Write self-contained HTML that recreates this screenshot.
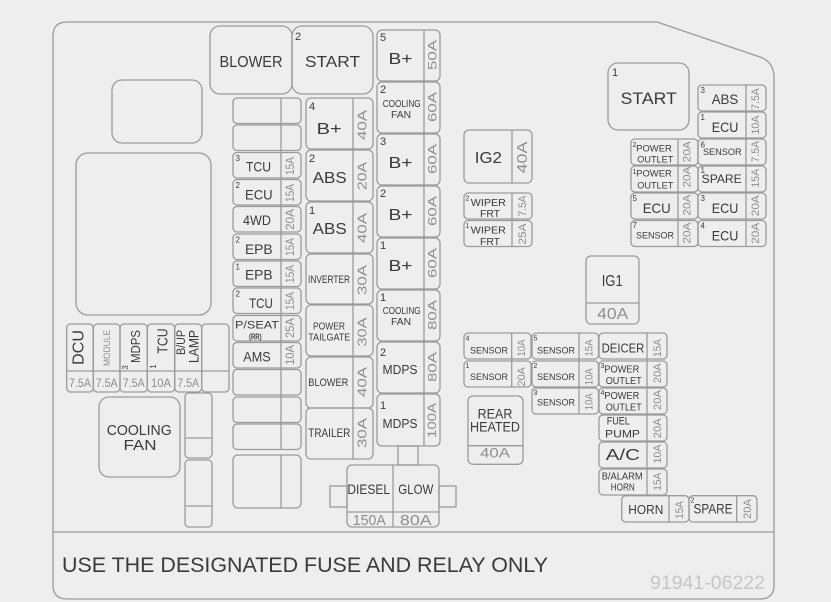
<!DOCTYPE html>
<html><head><meta charset="utf-8"><style>
html,body{margin:0;padding:0;background:#eeeeee;}
svg{display:block}
.b{fill:none;stroke:#9a9a9a;stroke-width:1.3}
text{font-family:"Liberation Sans",sans-serif;fill:#3a3a3a;text-anchor:middle}
text.a{fill:#8e8e8e}
text.n{text-anchor:start}
</style></head><body>
<svg width="831" height="602" viewBox="0 0 831 602" xmlns="http://www.w3.org/2000/svg">
<rect x="0" y="0" width="831" height="602" fill="#eeeeee"/>
<g class="b">
<path d="M67,22 H657 L760,57 Q774,62 774,77 V585 Q774,599 760,599 H67 Q53,599 53,585 V36 Q53,22 67,22 Z"/>
<line x1="53" y1="532" x2="774" y2="532"/>
<rect x="112" y="80" width="90" height="63" rx="10"/>
<rect x="76" y="153" width="135" height="162" rx="12"/>
<rect x="210" y="26" width="82" height="68" rx="10"/>
<rect x="292" y="26" width="81" height="68" rx="10"/>
<!-- B+ column -->
<rect x="377" y="30" width="63" height="51" rx="5"/>
<rect x="377" y="82" width="63" height="51" rx="5"/>
<rect x="377" y="134" width="63" height="51" rx="5"/>
<rect x="377" y="186" width="63" height="51" rx="5"/>
<rect x="377" y="238" width="63" height="51" rx="5"/>
<rect x="377" y="290" width="63" height="51" rx="5"/>
<rect x="377" y="342" width="63" height="51" rx="5"/>
<rect x="377" y="394" width="63" height="52" rx="5"/>
<line x1="424" y1="30" x2="424" y2="446"/>
<rect x="398" y="446" width="20" height="19"/>
<rect x="330" y="486" width="17" height="21"/>
<rect x="439" y="486" width="17" height="21"/>
<rect x="347" y="465" width="92" height="62" rx="5"/>
<line x1="393" y1="465" x2="393" y2="527"/>
<line x1="347" y1="512" x2="439" y2="512"/>
<!-- middle column -->
<rect x="306" y="98" width="67" height="51" rx="5"/>
<rect x="306" y="150" width="67" height="51" rx="5"/>
<rect x="306" y="202" width="67" height="51" rx="5"/>
<rect x="306" y="254" width="67" height="50" rx="5"/>
<rect x="306" y="305" width="67" height="51" rx="5"/>
<rect x="306" y="357" width="67" height="51" rx="5"/>
<rect x="306" y="408" width="67" height="51" rx="5"/>
<line x1="353" y1="98" x2="353" y2="459"/>
<!-- small fuse column -->
<rect x="233" y="98" width="68" height="25.5" rx="4"/>
<rect x="233" y="125" width="68" height="25.5" rx="4"/>
<rect x="233" y="152.5" width="68" height="25.5" rx="4"/>
<rect x="233" y="179.5" width="68" height="25.5" rx="4"/>
<rect x="233" y="206.5" width="68" height="25.5" rx="4"/>
<rect x="233" y="234" width="68" height="25.5" rx="4"/>
<rect x="233" y="261" width="68" height="25.5" rx="4"/>
<rect x="233" y="288" width="68" height="25.5" rx="4"/>
<rect x="233" y="315.5" width="68" height="25.5" rx="4"/>
<rect x="233" y="342.5" width="68" height="25.5" rx="4"/>
<rect x="233" y="369.5" width="68" height="25.5" rx="4"/>
<rect x="233" y="397" width="68" height="25.5" rx="4"/>
<rect x="233" y="424" width="68" height="25.5" rx="4"/>
<line x1="281" y1="98" x2="281" y2="449.5"/>
<rect x="233" y="455" width="68" height="53" rx="5"/>
<line x1="281" y1="455" x2="281" y2="508"/>
<!-- DCU row -->
<rect x="66.7" y="324" width="26.6" height="68" rx="4"/>
<rect x="93.3" y="324" width="26.7" height="68" rx="4"/>
<rect x="120" y="324" width="27.3" height="68" rx="4"/>
<rect x="147.3" y="324" width="27.4" height="68" rx="4"/>
<rect x="174.7" y="324" width="27" height="68" rx="4"/>
<rect x="201.7" y="324" width="27.3" height="68" rx="4"/>
<line x1="66.7" y1="371" x2="229" y2="371"/>
<rect x="99" y="397" width="81" height="80" rx="10"/>
<rect x="185" y="393" width="27" height="65" rx="4"/>
<line x1="185" y1="438" x2="212" y2="438"/>
<rect x="185" y="460" width="27" height="67" rx="4"/>
<line x1="185" y1="506" x2="212" y2="506"/>
<!-- IG2 / wipers / IG1 -->
<rect x="464" y="130" width="68" height="53" rx="5"/>
<line x1="512" y1="130" x2="512" y2="183"/>
<rect x="464" y="193" width="68" height="26" rx="4"/>
<rect x="464" y="220.5" width="68" height="26" rx="4"/>
<line x1="512" y1="193" x2="512" y2="246.5"/>
<rect x="586" y="256" width="53" height="68" rx="5"/>
<line x1="586" y1="303" x2="639" y2="303"/>
<!-- right top -->
<rect x="608" y="63" width="81" height="67" rx="10"/>
<rect x="698" y="85" width="68" height="26" rx="4"/>
<rect x="698" y="112" width="68" height="26" rx="4"/>
<rect x="698" y="139" width="68" height="26" rx="4"/>
<rect x="698" y="166" width="68" height="26" rx="4"/>
<rect x="698" y="193" width="68" height="26" rx="4"/>
<rect x="698" y="220.5" width="68" height="26" rx="4"/>
<line x1="746" y1="85" x2="746" y2="246.5"/>
<rect x="631" y="139" width="67" height="26" rx="4"/>
<rect x="631" y="166" width="67" height="26" rx="4"/>
<rect x="631" y="193" width="67" height="26" rx="4"/>
<rect x="631" y="220.5" width="67" height="26" rx="4"/>
<line x1="678" y1="139" x2="678" y2="246.5"/>
<!-- sensor block -->
<rect x="464" y="333" width="67" height="26" rx="4"/>
<rect x="464" y="361" width="67" height="26" rx="4"/>
<line x1="511.7" y1="333" x2="511.7" y2="387"/>
<rect x="532" y="333" width="66.5" height="26" rx="4"/>
<rect x="532" y="361" width="66.5" height="26" rx="4"/>
<rect x="532" y="388" width="66.5" height="26" rx="4"/>
<line x1="579" y1="333" x2="579" y2="414"/>
<rect x="599" y="333" width="68" height="26" rx="4"/>
<rect x="599" y="361" width="68" height="26" rx="4"/>
<rect x="599" y="388" width="68" height="26" rx="4"/>
<rect x="599" y="415" width="68" height="26" rx="4"/>
<rect x="599" y="442" width="68" height="26" rx="4"/>
<rect x="599" y="469" width="68" height="26" rx="4"/>
<line x1="647" y1="333" x2="647" y2="495"/>
<rect x="621.7" y="495.7" width="67.3" height="26.3" rx="4"/>
<line x1="669" y1="495.7" x2="669" y2="522"/>
<rect x="689" y="495.7" width="68" height="26.3" rx="4"/>
<line x1="736.7" y1="495.7" x2="736.7" y2="522"/>
<rect x="468" y="396" width="55" height="68.3" rx="5"/>
<line x1="468" y1="445.7" x2="523" y2="445.7"/>
</g>

<!-- relays top -->
<text x="251" y="67" font-size="16" textLength="63" lengthAdjust="spacingAndGlyphs">BLOWER</text>
<text class="n" x="295" y="40" font-size="11">2</text>
<text x="332.5" y="67" font-size="16" textLength="55" lengthAdjust="spacingAndGlyphs">START</text>

<!-- B+ column -->
<text class="n" x="380" y="41" font-size="11">5</text>
<text x="400.5" y="64" font-size="16" textLength="24" lengthAdjust="spacingAndGlyphs">B+</text>
<text class="a" transform="translate(436.7,55) rotate(-90)" font-size="11.5" textLength="30" lengthAdjust="spacingAndGlyphs">50A</text>

<text class="n" x="380" y="93" font-size="11">2</text>
<text x="401.7" y="107" font-size="10" textLength="38" lengthAdjust="spacingAndGlyphs">COOLING</text>
<text x="401" y="118" font-size="10" textLength="20" lengthAdjust="spacingAndGlyphs">FAN</text>
<text class="a" transform="translate(436.7,107) rotate(-90)" font-size="11.5" textLength="30" lengthAdjust="spacingAndGlyphs">60A</text>

<text class="n" x="380" y="145" font-size="11">3</text>
<text x="400.5" y="168" font-size="16" textLength="24" lengthAdjust="spacingAndGlyphs">B+</text>
<text class="a" transform="translate(436.7,159) rotate(-90)" font-size="11.5" textLength="30" lengthAdjust="spacingAndGlyphs">60A</text>

<text class="n" x="380" y="197" font-size="11">2</text>
<text x="400.5" y="220" font-size="16" textLength="24" lengthAdjust="spacingAndGlyphs">B+</text>
<text class="a" transform="translate(436.7,211) rotate(-90)" font-size="11.5" textLength="30" lengthAdjust="spacingAndGlyphs">60A</text>

<text class="n" x="380" y="249" font-size="11">1</text>
<text x="400.5" y="271" font-size="16" textLength="24" lengthAdjust="spacingAndGlyphs">B+</text>
<text class="a" transform="translate(436.7,263) rotate(-90)" font-size="11.5" textLength="30" lengthAdjust="spacingAndGlyphs">60A</text>

<text class="n" x="380" y="301" font-size="11">1</text>
<text x="401.7" y="314" font-size="10" textLength="38" lengthAdjust="spacingAndGlyphs">COOLING</text>
<text x="401" y="325" font-size="10" textLength="20" lengthAdjust="spacingAndGlyphs">FAN</text>
<text class="a" transform="translate(436.7,315) rotate(-90)" font-size="11.5" textLength="30" lengthAdjust="spacingAndGlyphs">80A</text>

<text class="n" x="380" y="356" font-size="11">2</text>
<text x="400" y="374" font-size="13" textLength="35" lengthAdjust="spacingAndGlyphs">MDPS</text>
<text class="a" transform="translate(436.7,367) rotate(-90)" font-size="11.5" textLength="30" lengthAdjust="spacingAndGlyphs">80A</text>

<text class="n" x="380" y="409" font-size="11">1</text>
<text x="400" y="428" font-size="13" textLength="35" lengthAdjust="spacingAndGlyphs">MDPS</text>
<text class="a" transform="translate(436.2,420.5) rotate(-90)" font-size="11.5" textLength="35" lengthAdjust="spacingAndGlyphs">100A</text>

<!-- diesel glow -->
<text x="368.7" y="494" font-size="14" textLength="42.7" lengthAdjust="spacingAndGlyphs">DIESEL</text>
<text x="415.8" y="494" font-size="14" textLength="35" lengthAdjust="spacingAndGlyphs">GLOW</text>
<text class="a" x="369.3" y="525" font-size="15" textLength="33" lengthAdjust="spacingAndGlyphs">150A</text>
<text class="a" x="415.8" y="525" font-size="15" textLength="31.7" lengthAdjust="spacingAndGlyphs">80A</text>

<!-- middle column -->
<text class="n" x="309" y="110" font-size="11">4</text>
<text x="329.2" y="134" font-size="16" textLength="25" lengthAdjust="spacingAndGlyphs">B+</text>
<text class="a" transform="translate(366.5,125) rotate(-90)" font-size="13" textLength="30" lengthAdjust="spacingAndGlyphs">40A</text>

<text class="n" x="309" y="162" font-size="11">2</text>
<text x="329.7" y="183" font-size="16" textLength="34" lengthAdjust="spacingAndGlyphs">ABS</text>
<text class="a" transform="translate(366.5,176) rotate(-90)" font-size="13" textLength="28" lengthAdjust="spacingAndGlyphs">20A</text>

<text class="n" x="309" y="214" font-size="11">1</text>
<text x="329.7" y="234" font-size="16" textLength="34" lengthAdjust="spacingAndGlyphs">ABS</text>
<text class="a" transform="translate(366.5,228) rotate(-90)" font-size="13" textLength="30" lengthAdjust="spacingAndGlyphs">40A</text>

<text x="329" y="283" font-size="11" textLength="42" lengthAdjust="spacingAndGlyphs">INVERTER</text>
<text class="a" transform="translate(366.5,280) rotate(-90)" font-size="13" textLength="30" lengthAdjust="spacingAndGlyphs">30A</text>

<text x="329" y="329.3" font-size="10.5" textLength="32" lengthAdjust="spacingAndGlyphs">POWER</text>
<text x="329.3" y="340.7" font-size="10.5" textLength="42" lengthAdjust="spacingAndGlyphs">TAILGATE</text>
<text class="a" transform="translate(366.5,332) rotate(-90)" font-size="13" textLength="29" lengthAdjust="spacingAndGlyphs">30A</text>

<text x="328.3" y="386" font-size="11" textLength="40" lengthAdjust="spacingAndGlyphs">BLOWER</text>
<text class="a" transform="translate(366.5,382) rotate(-90)" font-size="13" textLength="30" lengthAdjust="spacingAndGlyphs">40A</text>

<text x="329.3" y="437" font-size="11.5" textLength="42" lengthAdjust="spacingAndGlyphs">TRAILER</text>
<text class="a" transform="translate(366.5,433) rotate(-90)" font-size="13" textLength="30" lengthAdjust="spacingAndGlyphs">30A</text>

<!-- small fuse column -->
<text class="n" x="235.5" y="161" font-size="8">3</text>
<text x="258.5" y="171.5" font-size="14" textLength="25" lengthAdjust="spacingAndGlyphs">TCU</text>
<text class="a" transform="translate(294,166) rotate(-90)" font-size="12" textLength="18" lengthAdjust="spacingAndGlyphs">15A</text>

<text class="n" x="235.5" y="188" font-size="8">2</text>
<text x="258.8" y="199.5" font-size="14" textLength="27.7" lengthAdjust="spacingAndGlyphs">ECU</text>
<text class="a" transform="translate(294,193) rotate(-90)" font-size="12" textLength="18" lengthAdjust="spacingAndGlyphs">15A</text>

<text x="257" y="225" font-size="14" textLength="28" lengthAdjust="spacingAndGlyphs">4WD</text>
<text class="a" transform="translate(294,219.5) rotate(-90)" font-size="12" textLength="21" lengthAdjust="spacingAndGlyphs">20A</text>

<text class="n" x="235.5" y="242.5" font-size="8">2</text>
<text x="258.8" y="254" font-size="14" textLength="27.7" lengthAdjust="spacingAndGlyphs">EPB</text>
<text class="a" transform="translate(294,247) rotate(-90)" font-size="12" textLength="18" lengthAdjust="spacingAndGlyphs">15A</text>

<text class="n" x="235.5" y="269.5" font-size="8">1</text>
<text x="258.8" y="279.5" font-size="14" textLength="27.7" lengthAdjust="spacingAndGlyphs">EPB</text>
<text class="a" transform="translate(294,274) rotate(-90)" font-size="12" textLength="18" lengthAdjust="spacingAndGlyphs">15A</text>

<text class="n" x="235.5" y="296.5" font-size="8">2</text>
<text x="261" y="308" font-size="14" textLength="23.7" lengthAdjust="spacingAndGlyphs">TCU</text>
<text class="a" transform="translate(294,301) rotate(-90)" font-size="12" textLength="18" lengthAdjust="spacingAndGlyphs">15A</text>

<text x="257" y="328.3" font-size="11" textLength="44" lengthAdjust="spacingAndGlyphs">P/SEAT</text>
<text x="255.3" y="339.3" font-size="8" font-weight="bold" textLength="12.7" lengthAdjust="spacingAndGlyphs">(RR)</text>
<text class="a" transform="translate(294,328) rotate(-90)" font-size="12" textLength="20" lengthAdjust="spacingAndGlyphs">25A</text>

<text x="257" y="361.5" font-size="14" textLength="27.4" lengthAdjust="spacingAndGlyphs">AMS</text>
<text class="a" transform="translate(294,355) rotate(-90)" font-size="12" textLength="20" lengthAdjust="spacingAndGlyphs">10A</text>

<!-- DCU row -->
<text transform="translate(83.3,347.5) rotate(-90)" font-size="16" textLength="35" lengthAdjust="spacingAndGlyphs">DCU</text>
<text class="a" transform="translate(110,348) rotate(-90)" font-size="9" textLength="36" lengthAdjust="spacingAndGlyphs">MODULE</text>
<text transform="translate(140,346.5) rotate(-90)" font-size="13" textLength="33" lengthAdjust="spacingAndGlyphs">MDPS</text>
<text transform="translate(128,367.5) rotate(-90)" font-size="8">3</text>
<text transform="translate(167.7,341) rotate(-90)" font-size="15" textLength="25" lengthAdjust="spacingAndGlyphs">TCU</text>
<text transform="translate(156,366.5) rotate(-90)" font-size="8">1</text>
<text transform="translate(185,342.5) rotate(-90)" font-size="11.5" textLength="25" lengthAdjust="spacingAndGlyphs">B/UP</text>
<text transform="translate(198.3,346.5) rotate(-90)" font-size="13.5" textLength="33" lengthAdjust="spacingAndGlyphs">LAMP</text>
<text class="a" x="80" y="387" font-size="12" textLength="22" lengthAdjust="spacingAndGlyphs">7.5A</text>
<text class="a" x="106.7" y="387" font-size="12" textLength="22" lengthAdjust="spacingAndGlyphs">7.5A</text>
<text class="a" x="133.7" y="387" font-size="12" textLength="22" lengthAdjust="spacingAndGlyphs">7.5A</text>
<text class="a" x="161" y="387" font-size="12" textLength="20" lengthAdjust="spacingAndGlyphs">10A</text>
<text class="a" x="188.2" y="387" font-size="12" textLength="22" lengthAdjust="spacingAndGlyphs">7.5A</text>

<!-- cooling fan relay -->
<text x="139.2" y="435" font-size="15" textLength="65" lengthAdjust="spacingAndGlyphs">COOLING</text>
<text x="140" y="450" font-size="15" textLength="33" lengthAdjust="spacingAndGlyphs">FAN</text>

<!-- IG2 / wipers / IG1 -->
<text x="488.3" y="163" font-size="16" textLength="27" lengthAdjust="spacingAndGlyphs">IG2</text>
<text class="a" transform="translate(527.2,157.5) rotate(-90)" font-size="15" textLength="31.7" lengthAdjust="spacingAndGlyphs">40A</text>
<text class="n" x="465.5" y="200.5" font-size="7">2</text>
<text x="488.3" y="206" font-size="10" textLength="35" lengthAdjust="spacingAndGlyphs">WIPER</text>
<text x="490" y="217" font-size="10" textLength="20" lengthAdjust="spacingAndGlyphs">FRT</text>
<text class="a" transform="translate(526,206) rotate(-90)" font-size="11" textLength="21" lengthAdjust="spacingAndGlyphs">7.5A</text>
<text class="n" x="465.5" y="228" font-size="7">1</text>
<text x="488.3" y="233.7" font-size="10" textLength="35" lengthAdjust="spacingAndGlyphs">WIPER</text>
<text x="490" y="245" font-size="10" textLength="20" lengthAdjust="spacingAndGlyphs">FRT</text>
<text class="a" transform="translate(526,234) rotate(-90)" font-size="11" textLength="21" lengthAdjust="spacingAndGlyphs">25A</text>
<text x="612.2" y="286" font-size="16" textLength="21" lengthAdjust="spacingAndGlyphs">IG1</text>
<text class="a" x="612.7" y="319" font-size="16" textLength="31" lengthAdjust="spacingAndGlyphs">40A</text>

<!-- right top -->
<text class="n" x="612" y="76" font-size="11">1</text>
<text x="648.7" y="104" font-size="17" textLength="56" lengthAdjust="spacingAndGlyphs">START</text>

<text class="n" x="700.5" y="93" font-size="8">3</text>
<text x="725" y="104" font-size="14" textLength="26.6" lengthAdjust="spacingAndGlyphs">ABS</text>
<text class="a" transform="translate(759,99) rotate(-90)" font-size="11" textLength="21.7" lengthAdjust="spacingAndGlyphs">7.5A</text>
<text class="n" x="700.5" y="120" font-size="8">1</text>
<text x="725" y="132" font-size="14" textLength="26.6" lengthAdjust="spacingAndGlyphs">ECU</text>
<text class="a" transform="translate(759,125) rotate(-90)" font-size="11" textLength="19" lengthAdjust="spacingAndGlyphs">10A</text>
<text class="n" x="700.5" y="147.5" font-size="8">6</text>
<text x="722.3" y="155" font-size="9.5" textLength="38.7" lengthAdjust="spacingAndGlyphs">SENSOR</text>
<text class="a" transform="translate(759,151.7) rotate(-90)" font-size="11" textLength="21.7" lengthAdjust="spacingAndGlyphs">7.5A</text>
<text class="n" x="700.5" y="173" font-size="8">1</text>
<text x="721.7" y="183" font-size="11.5" textLength="40" lengthAdjust="spacingAndGlyphs">SPARE</text>
<text class="a" transform="translate(759,178.3) rotate(-90)" font-size="11" textLength="19" lengthAdjust="spacingAndGlyphs">15A</text>
<text class="n" x="700.5" y="201" font-size="8">3</text>
<text x="725" y="213" font-size="14" textLength="26.6" lengthAdjust="spacingAndGlyphs">ECU</text>
<text class="a" transform="translate(759,205.7) rotate(-90)" font-size="11" textLength="21" lengthAdjust="spacingAndGlyphs">20A</text>
<text class="n" x="700.5" y="228.5" font-size="8">4</text>
<text x="725" y="240.7" font-size="14" textLength="26.6" lengthAdjust="spacingAndGlyphs">ECU</text>
<text class="a" transform="translate(759,233.3) rotate(-90)" font-size="11" textLength="21" lengthAdjust="spacingAndGlyphs">20A</text>

<text class="n" x="632.5" y="147" font-size="7">2</text>
<text x="654" y="151.7" font-size="9" textLength="35.7" lengthAdjust="spacingAndGlyphs">POWER</text>
<text x="655.3" y="162.3" font-size="9" textLength="36" lengthAdjust="spacingAndGlyphs">OUTLET</text>
<text class="a" transform="translate(690.7,151.7) rotate(-90)" font-size="11" textLength="21" lengthAdjust="spacingAndGlyphs">20A</text>
<text class="n" x="632.5" y="174" font-size="7">1</text>
<text x="654" y="176.7" font-size="9" textLength="35.7" lengthAdjust="spacingAndGlyphs">POWER</text>
<text x="655.3" y="188.3" font-size="9" textLength="36" lengthAdjust="spacingAndGlyphs">OUTLET</text>
<text class="a" transform="translate(690.7,177) rotate(-90)" font-size="11" textLength="21" lengthAdjust="spacingAndGlyphs">20A</text>
<text class="n" x="632.5" y="201" font-size="8">5</text>
<text x="656.7" y="213" font-size="14" textLength="28" lengthAdjust="spacingAndGlyphs">ECU</text>
<text class="a" transform="translate(690.7,205) rotate(-90)" font-size="11" textLength="21" lengthAdjust="spacingAndGlyphs">20A</text>
<text class="n" x="632.5" y="228" font-size="8">7</text>
<text x="655" y="238.3" font-size="9.5" textLength="38" lengthAdjust="spacingAndGlyphs">SENSOR</text>
<text class="a" transform="translate(690.7,233) rotate(-90)" font-size="11" textLength="21" lengthAdjust="spacingAndGlyphs">20A</text>

<!-- sensor block -->
<text class="n" x="465.5" y="340.5" font-size="7">4</text>
<text x="489" y="353.3" font-size="9.5" textLength="38" lengthAdjust="spacingAndGlyphs">SENSOR</text>
<text class="a" transform="translate(525,348) rotate(-90)" font-size="11" textLength="17" lengthAdjust="spacingAndGlyphs">10A</text>
<text class="n" x="465.5" y="368" font-size="7">1</text>
<text x="489" y="380" font-size="9.5" textLength="38" lengthAdjust="spacingAndGlyphs">SENSOR</text>
<text class="a" transform="translate(525,376.7) rotate(-90)" font-size="11" textLength="19" lengthAdjust="spacingAndGlyphs">20A</text>

<text class="n" x="533.5" y="340.5" font-size="7">5</text>
<text x="556" y="353.3" font-size="9.5" textLength="38" lengthAdjust="spacingAndGlyphs">SENSOR</text>
<text class="a" transform="translate(592.5,348) rotate(-90)" font-size="11" textLength="17" lengthAdjust="spacingAndGlyphs">15A</text>
<text class="n" x="533.5" y="368" font-size="7">2</text>
<text x="556" y="380" font-size="9.5" textLength="38" lengthAdjust="spacingAndGlyphs">SENSOR</text>
<text class="a" transform="translate(592.5,376.7) rotate(-90)" font-size="11" textLength="17" lengthAdjust="spacingAndGlyphs">10A</text>
<text class="n" x="533.5" y="395" font-size="7">3</text>
<text x="556" y="405.5" font-size="9.5" textLength="38" lengthAdjust="spacingAndGlyphs">SENSOR</text>
<text class="a" transform="translate(592.5,401.7) rotate(-90)" font-size="11" textLength="17" lengthAdjust="spacingAndGlyphs">10A</text>

<text x="623" y="352.3" font-size="12.5" textLength="42.7" lengthAdjust="spacingAndGlyphs">DEICER</text>
<text class="a" transform="translate(661,348) rotate(-90)" font-size="11" textLength="18" lengthAdjust="spacingAndGlyphs">15A</text>
<text class="n" x="600.5" y="368" font-size="7">3</text>
<text x="621.8" y="372.3" font-size="10" textLength="35" lengthAdjust="spacingAndGlyphs">POWER</text>
<text x="623.7" y="384" font-size="10" textLength="36" lengthAdjust="spacingAndGlyphs">OUTLET</text>
<text class="a" transform="translate(661,373.3) rotate(-90)" font-size="11" textLength="20" lengthAdjust="spacingAndGlyphs">20A</text>
<text class="n" x="600.5" y="395" font-size="7">4</text>
<text x="621.8" y="399" font-size="10" textLength="35" lengthAdjust="spacingAndGlyphs">POWER</text>
<text x="623.7" y="410.7" font-size="10" textLength="36" lengthAdjust="spacingAndGlyphs">OUTLET</text>
<text class="a" transform="translate(661,400) rotate(-90)" font-size="11" textLength="20" lengthAdjust="spacingAndGlyphs">20A</text>
<text x="618.3" y="424.3" font-size="11" textLength="23" lengthAdjust="spacingAndGlyphs">FUEL</text>
<text x="622.5" y="437.7" font-size="11" textLength="35" lengthAdjust="spacingAndGlyphs">PUMP</text>
<text class="a" transform="translate(661,428.3) rotate(-90)" font-size="11" textLength="20" lengthAdjust="spacingAndGlyphs">20A</text>
<text x="622.8" y="460" font-size="16" textLength="34" lengthAdjust="spacingAndGlyphs">A/C</text>
<text class="a" transform="translate(661,454) rotate(-90)" font-size="11" textLength="19" lengthAdjust="spacingAndGlyphs">10A</text>
<text x="622.2" y="479.3" font-size="10" textLength="41" lengthAdjust="spacingAndGlyphs">B/ALARM</text>
<text x="622.8" y="490.7" font-size="10" textLength="24" lengthAdjust="spacingAndGlyphs">HORN</text>
<text class="a" transform="translate(661,481.7) rotate(-90)" font-size="11" textLength="18" lengthAdjust="spacingAndGlyphs">15A</text>

<text x="645.8" y="514" font-size="13" textLength="35" lengthAdjust="spacingAndGlyphs">HORN</text>
<text class="a" transform="translate(683,510) rotate(-90)" font-size="11" textLength="18" lengthAdjust="spacingAndGlyphs">15A</text>
<text class="n" x="690.5" y="502.5" font-size="7">2</text>
<text x="713" y="513.3" font-size="13.5" textLength="39" lengthAdjust="spacingAndGlyphs">SPARE</text>
<text class="a" transform="translate(750.8,509) rotate(-90)" font-size="11" textLength="20" lengthAdjust="spacingAndGlyphs">20A</text>

<text x="495" y="418.3" font-size="13.5" textLength="34.7" lengthAdjust="spacingAndGlyphs">REAR</text>
<text x="495" y="431.7" font-size="13.5" textLength="50" lengthAdjust="spacingAndGlyphs">HEATED</text>
<text class="a" x="495" y="457.7" font-size="13.5" textLength="30" lengthAdjust="spacingAndGlyphs">40A</text>

<!-- footer -->
<text x="305" y="572" font-size="21" fill="#3a3a3a" textLength="486" lengthAdjust="spacingAndGlyphs">USE THE DESIGNATED FUSE AND RELAY ONLY</text>
<text x="707.5" y="589" font-size="19" style="fill:#c6c6c6" textLength="115" lengthAdjust="spacingAndGlyphs">91941-06222</text>
</svg>
</body></html>
